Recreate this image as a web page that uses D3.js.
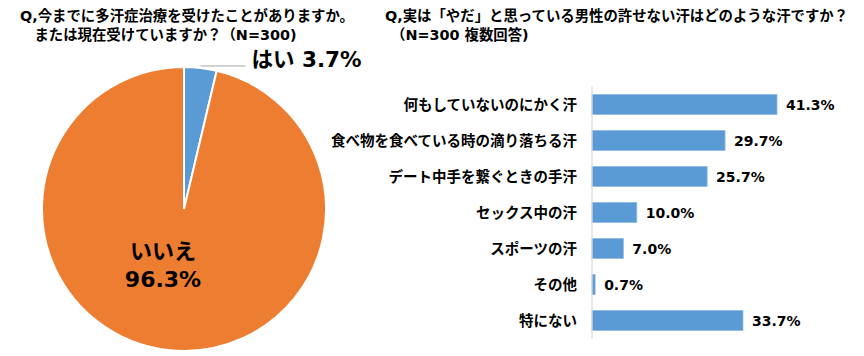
<!DOCTYPE html>
<html><head><meta charset="utf-8">
<script src="https://cdn.jsdelivr.net/npm/d3@7"></script>
<style>
body{margin:0;background:#fff;}
text{font-family:"DejaVu Sans","Noto Sans CJK JP",sans-serif;font-weight:bold;fill:#000;}
</style></head>
<body><svg id="c" width="864" height="356"></svg>
<script>
// ---- data ----
const pieTitle = ["Q,今までに多汗症治療を受けたことがありますか。", "　または現在受けていますか？（N=300)"];
const pieLabels = ["はい", "いいえ"];
const pieValues = [3.7, 96.3];
const barTitle = ["Q,実は「やだ」と思っている男性の許せない汗はどのような汗ですか？", "（N=300 複数回答)"];
const categories = ["何もしていないのにかく汗", "食べ物を食べている時の滴り落ちる汗", "デート中手を繋ぐときの手汗", "セックス中の汗", "スポーツの汗", "その他", "特にない"];
const barValues = [41.3, 29.7, 25.7, 10.0, 7.0, 0.7, 33.7];

const svg = d3.select("#c");

// ---- titles ----
const t1 = svg.append("text").attr("font-size", 14.4);
t1.append("tspan").attr("x", 20).attr("y", 21).text(pieTitle[0]);
t1.append("tspan").attr("x", 20).attr("y", 40).text(pieTitle[1]);
const t2 = svg.append("text").attr("font-size", 14.4);
t2.append("tspan").attr("x", 385).attr("y", 21).text(barTitle[0]);
t2.append("tspan").attr("x", 391).attr("y", 40).text(barTitle[1]);

// ---- pie ----
const cx = 184, cy = 209, R = 142;
const pie = d3.pie().sort(null).value(d => d)(pieValues);
const arc = d3.arc().innerRadius(0).outerRadius(R);
const colors = d3.scaleOrdinal().domain(pieLabels).range(["#5b9bd5", "#ed7d31"]);
const g = svg.append("g").attr("transform", `translate(${cx},${cy})`);
g.selectAll("path").data(pie).join("path")
  .attr("d", arc)
  .attr("fill", (d, i) => colors(pieLabels[i]))
  .attr("stroke", "#fff").attr("stroke-width", 2);

// label for small slice with leader line
const edge = d3.arc().innerRadius(R).outerRadius(R).centroid(pie[0]);
g.append("line")
  .attr("x1", edge[0]).attr("y1", edge[1] - 2)
  .attr("x2", edge[0] + 45).attr("y2", edge[1] - 2)
  .attr("stroke", "#a6a6a6").attr("stroke-width", 1);
g.append("text").attr("font-size", 21.5)
  .attr("x", edge[0] + 51).attr("y", edge[1] - 1)
  .text(pieLabels[0] + " " + pieValues[0].toFixed(1) + "%");

// label for large slice
const lg = g.append("text").attr("font-size", 22).attr("text-anchor", "middle");
lg.append("tspan").attr("x", -21).attr("y", 50).text(pieLabels[1]);
lg.append("tspan").attr("x", -21).attr("y", 78).text(pieValues[1].toFixed(1) + "%");

// ---- bars ----
const x0 = 592;
const x = d3.scaleLinear().domain([0, 41.3]).range([x0, 777]);
const y = d3.scaleBand().domain(categories).range([86.5, 338.5]).paddingInner(0.444).paddingOuter(0.222);

svg.append("g").selectAll("rect").data(barValues).join("rect")
  .attr("x", x(0))
  .attr("y", (d, i) => y(categories[i]))
  .attr("width", d => x(d) - x(0))
  .attr("height", y.bandwidth())
  .attr("fill", "#5b9bd5")
  .attr("stroke", "#8fb8e0").attr("stroke-width", 0.8);

svg.append("line")
  .attr("x1", x(0)).attr("x2", x(0))
  .attr("y1", y.range()[0]).attr("y2", y.range()[1])
  .attr("stroke", "#d9d9d9").attr("stroke-width", 1.2);

svg.append("g").selectAll("text").data(categories).join("text")
  .attr("font-size", 14.5).attr("text-anchor", "end")
  .attr("x", x(0) - 15)
  .attr("y", d => y(d) + y.bandwidth() / 2)
  .attr("dy", "0.35em")
  .text(d => d);

svg.append("g").selectAll("text").data(barValues).join("text")
  .attr("font-size", 14)
  .attr("x", d => x(d) + 9)
  .attr("y", (d, i) => y(categories[i]) + y.bandwidth() / 2)
  .attr("dy", "0.38em")
  .text(d => d.toFixed(1) + "%");
</script></body></html>
